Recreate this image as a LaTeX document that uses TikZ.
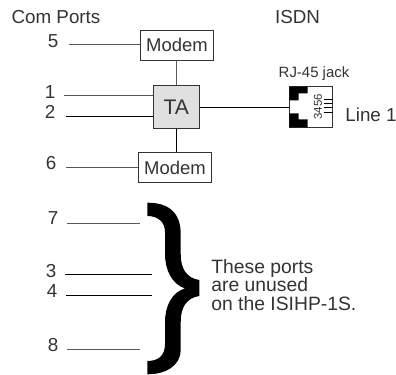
\documentclass[tikz,border=0pt]{standalone}
\usepackage{fontspec}
\setmainfont{Liberation Sans}
\definecolor{boxgray}{gray}{0.88}
\definecolor{textgray}{gray}{0.2}
\definecolor{wiregray}{gray}{0.35}
\tikzset{
  linebox/.style={draw=textgray, line width=0.5pt, inner sep=0pt, text=textgray},
  wire/.style={line width=0.5pt},
  lightwire/.style={line width=0.5pt, wiregray},
  portlabel/.style={font=\fontsize{10.7}{12}\selectfont, inner sep=0pt, text=textgray},
}
\begin{document}
\begin{tikzpicture}[x=0.02cm, y=-0.02cm]
\useasboundingbox (0,0) rectangle (396,375);

\node[portlabel] (comports) at (56,17) {Com Ports};
\node[portlabel] (isdn) at (297.5,17) {ISDN};

\node[linebox, minimum width=1.45cm, minimum height=0.6cm, font=\fontsize{10.5}{12}\selectfont] (modemtop) at (177,45) {Modem};
\node[linebox, fill=boxgray, minimum width=0.92cm, minimum height=0.85cm, font=\fontsize{12}{14}\selectfont] (ta) at (176.3,107) {TA};
\node[linebox, minimum width=1.45cm, minimum height=0.6cm, font=\fontsize{10.5}{12}\selectfont] (modembot) at (175,167.5) {Modem};

\node[portlabel] (p5) at (53,41) {5};
\node[portlabel] (p1) at (50,92) {1};
\node[portlabel] (p2) at (50,112) {2};
\node[portlabel] (p6) at (51,163) {6};
\coordinate (c5) at (69,44.5);
\coordinate (c1) at (64,95);
\coordinate (c2) at (66,116.7);
\coordinate (c6) at (66,167.7);
\draw[lightwire] (c5) -- (modemtop.west |- c5);
\draw[lightwire] (c1) -- (ta.west |- c1);
\draw[wire] (c2) -- (ta.west |- c2);
\draw[lightwire] (c6) -- (modembot.west |- c6);
\draw[lightwire] (modemtop.south -| ta) -- (ta.north);
\draw[wire] (ta.south) -- (modembot.north -| ta);

% jack
\node[linebox, minimum width=0.87cm, minimum height=0.81cm] (jack) at (311,107) {};
\fill (289.3,86.7) -- (307.5,86.7) -- (307.5,93.5) -- (298.5,93.5) -- (298.5,100.5) -- (289.3,100.5) -- cycle;
\fill (289.3,113.5) -- (298.5,113.5) -- (298.5,119.5) -- (307.5,119.5) -- (307.5,127.3) -- (289.3,127.3) -- cycle;
\draw[wire] (ta.east) -- (jack.west);
\foreach \y in {99.3,103.3,107.7,112.3}
  \draw[wire] (324,\y) -- (332.5,\y);
\node[rotate=90, inner sep=0pt, font=\fontsize{6.5}{7}\selectfont, text=textgray] (pins) at (318,106.7) {3456};
\node[portlabel, font=\fontsize{8.5}{10}\selectfont] (rjlabel) at (314,74) {RJ-45 jack};
\node[portlabel] (line1) at (371,114.5) {Line 1};

% unused ports
\node[portlabel] (p7) at (53,218) {7};
\node[portlabel] (p3) at (51,271) {3};
\node[portlabel] (p4) at (52,291) {4};
\node[portlabel] (p8) at (53,345) {8};
\coordinate (c7a) at (67,223);
\coordinate (c7b) at (139.5,223);
\coordinate (c3a) at (65,274.5);
\coordinate (c3b) at (151.5,274.5);
\coordinate (c4a) at (66,295.5);
\coordinate (c4b) at (151.5,295.5);
\coordinate (c8a) at (67,349);
\coordinate (c8b) at (139.5,349);
\draw[lightwire] (c7a) -- (c7b);
\draw[wire] (c3a) -- (c3b);
\draw[wire] (c4a) -- (c4b);
\draw[lightwire] (c8a) -- (c8b);

\fill (147.3,202.7) .. controls (168,202.7) and (180.7,212) .. (180.7,234)
  -- (180.7,254) .. controls (180.7,268) and (186,278) .. (199.3,280)
  -- (199.3,296) .. controls (186,298) and (180.7,308) .. (180.7,322)
  -- (180.7,350) .. controls (180.7,364) and (168,374.3) .. (147.3,374.3)
  -- (147.3,361) .. controls (158,361) and (165,356) .. (165,344)
  -- (165,322) .. controls (165,306) and (172,292) .. (185,288.5)
  .. controls (172,284) and (165,270) .. (165,254)
  -- (165,232) .. controls (165,222) and (158,216) .. (147.3,216) -- cycle;

\node[align=left, anchor=west, inner sep=0pt, text=textgray, font=\fontsize{11}{10.3}\selectfont] (unused) at (211,285) {These ports\\are unused\\on the ISIHP-1S.};
\end{tikzpicture}
\end{document}
